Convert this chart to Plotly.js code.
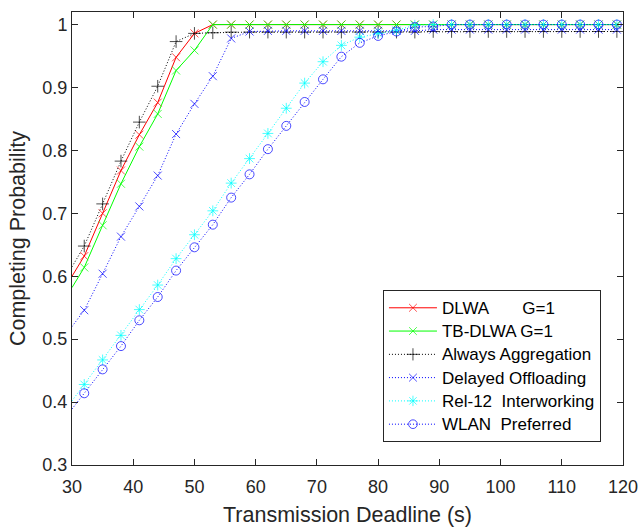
<!DOCTYPE html>
<html>
<head>
<meta charset="utf-8">
<script src="https://cdn.plot.ly/plotly-3.0.1.min.js"></script>
<style>
  html, body { margin: 0; padding: 0; background: #ffffff; }
  #chart { width: 639px; height: 527px; }
</style>
</head>
<body>
<div id="chart"></div>
<script>
// Transmission deadline (s); the first entry sits on the left axis edge
const deadline = [30, 32, 35, 38, 41, 44, 47, 50, 53, 56, 59, 62, 65, 68, 71, 74,
                  77, 80, 83, 86, 89, 92, 95, 98, 101, 104, 107, 110, 113, 116, 119];

const dlwa = [0.600, 0.632, 0.700, 0.768, 0.825, 0.876, 0.948, 0.986, 1.000, 1.000,
              1.000, 1.000, 1.000, 1.000, 1.000, 1.000, 1.000, 1.000, 1.000, 1.000,
              1.000, 1.000, 1.000, 1.000, 1.000, 1.000, 1.000, 1.000, 1.000, 1.000, 1.000];

const tbDlwa = [0.582, 0.614, 0.681, 0.747, 0.806, 0.858, 0.927, 0.959, 1.000, 1.000,
                1.000, 1.000, 1.000, 1.000, 1.000, 1.000, 1.000, 1.000, 1.000, 1.000,
                1.000, 1.000, 1.000, 1.000, 1.000, 1.000, 1.000, 1.000, 1.000, 1.000, 1.000];

const alwaysAgg = [0.615, 0.648, 0.715, 0.783, 0.845, 0.902, 0.973, 0.986, 0.987, 0.988,
                   0.988, 0.988, 0.988, 0.988, 0.988, 0.988, 0.988, 0.988, 0.988, 0.988,
                   0.989, 0.989, 0.989, 0.989, 0.989, 0.989, 0.989, 0.989, 0.989, 0.989, 0.989];

const delayedOff = [0.520, 0.546, 0.604, 0.663, 0.711, 0.760, 0.826, 0.874, 0.918, 0.978,
                    0.989, 0.990, 0.990, 0.990, 0.990, 0.990, 0.990, 0.990, 0.990, 0.990,
                    0.992, 0.992, 0.992, 0.992, 0.992, 0.992, 0.992, 0.992, 0.992, 0.992, 0.992];

const rel12 = [0.402, 0.428, 0.467, 0.506, 0.547, 0.586, 0.628, 0.666, 0.704, 0.748,
               0.787, 0.827, 0.867, 0.907, 0.941, 0.967, 0.980, 0.986, 0.991, 0.999,
               1.000, 1.000, 1.000, 1.000, 1.000, 1.000, 1.000, 1.000, 1.000, 1.000, 1.000];

const wlanPref = [0.389, 0.414, 0.452, 0.489, 0.530, 0.567, 0.609, 0.646, 0.682, 0.725,
                  0.762, 0.802, 0.839, 0.877, 0.913, 0.949, 0.971, 0.982, 0.989, 0.996,
                  0.997, 1.000, 1.000, 1.000, 1.000, 1.000, 1.000, 1.000, 1.000, 1.000, 1.000];

const seriesNames = [
  'DLWA\u00a0\u00a0\u00a0\u00a0\u00a0\u00a0\u00a0G=1',
  'TB-DLWA G=1',
  'Always Aggregation',
  'Delayed Offloading',
  'Rel-12\u00a0\u00a0Interworking',
  'WLAN\u00a0\u00a0Preferred'
];

const FONT = '"Liberation Sans", Arial, Helvetica, sans-serif';
const AXIS = '#262626';

// no marker on the point that lies on the axis edge
function sizes(s) {
  return deadline.map((_, i) => (i === 0 ? 0 : s));
}

// legend rows are packed a little tighter than the label text size
function legendLabel(text) {
  return '<span style="font-size:17px">' + text + '</span>';
}

function series(y, name, color, dash, symbol, msize) {
  return {
    type: 'scatter',
    mode: 'lines+markers',
    x: deadline,
    y: y,
    name: legendLabel(name),
    line: { color: color, width: 1, dash: dash },
    marker: {
      symbol: symbol,
      size: sizes(msize),
      color: color,
      line: { color: color, width: 1 }
    }
  };
}

const DOT = '1px,2px';

const traces = [
  series(dlwa, seriesNames[0], '#ff0000', 'solid', 'x-thin-open', 8),
  series(tbDlwa, seriesNames[1], '#00ff00', 'solid', 'x-thin-open', 8),
  series(alwaysAgg, seriesNames[2], '#000000', DOT, 'cross-thin-open', 9),
  series(delayedOff, seriesNames[3], '#0000ff', DOT, 'x-thin-open', 8),
  series(rel12, seriesNames[4], '#00ffff', DOT, 'asterisk-open', 9),
  series(wlanPref, seriesNames[5], '#0000ff', DOT, 'circle-open', 9)
];

const axisCommon = {
  showgrid: false,
  zeroline: false,
  showline: true,
  linecolor: AXIS,
  linewidth: 1,
  mirror: 'ticks',
  ticks: 'inside',
  ticklen: 6,
  tickwidth: 1,
  tickcolor: AXIS,
  tickfont: { family: FONT, size: 18, color: AXIS }
};

const layout = {
  width: 639,
  height: 527,
  margin: { l: 72, r: 16, t: 12, b: 62 },
  paper_bgcolor: '#ffffff',
  plot_bgcolor: '#ffffff',
  font: { family: FONT, color: AXIS },
  showlegend: true,
  xaxis: Object.assign({}, axisCommon, {
    range: [30, 120],
    tick0: 30,
    dtick: 10,
    ticklabelstandoff: 5,
    title: { text: 'Transmission Deadline (s)', font: { family: FONT, size: 21.5, color: AXIS }, standoff: 12 }
  }),
  yaxis: Object.assign({}, axisCommon, {
    range: [0.3, 1.02],
    tick0: 0.3,
    dtick: 0.1,
    title: { text: 'Completing Probability', font: { family: FONT, size: 21.5, color: AXIS }, standoff: 10 }
  }),
  legend: {
    x: 0.960,
    xanchor: 'right',
    y: 0.386,
    yanchor: 'top',
    bgcolor: '#ffffff',
    bordercolor: AXIS,
    borderwidth: 1,
    font: { family: FONT, size: 15.6, color: '#000000' },
    itemwidth: 48,
    tracegroupgap: 0
  }
};

Plotly.newPlot('chart', traces, layout, { displayModeBar: false, staticPlot: true });
</script>
</body>
</html>
